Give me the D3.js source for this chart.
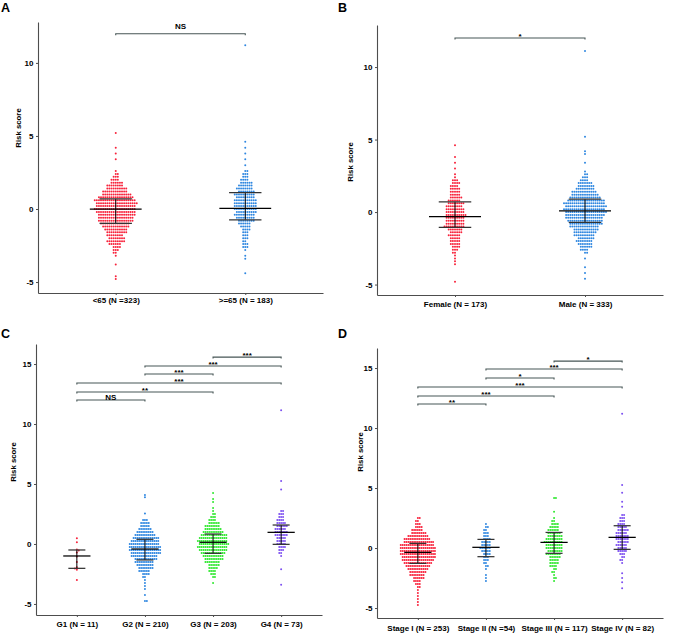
<!DOCTYPE html>
<html><head><meta charset="utf-8">
<script src="https://cdn.jsdelivr.net/npm/d3@7"></script>
<style>
body{margin:0;background:#fff}
svg{display:block}
text{font-family:"Liberation Sans",Arial,Helvetica,sans-serif;font-weight:bold}
</style>
</head><body>
<svg id="chart" width="677" height="633"></svg>
<script>
// ---------------- DATA ----------------
const catsA = ["<65 (N =323)", ">=65 (N = 183)"];
const catsB = ["Female (N = 173)", "Male (N = 333)"];
const catsC = ["G1 (N = 11)", "G2 (N = 210)", "G3 (N = 203)", "G4 (N = 73)"];
const catsD = ["Stage I (N = 253)", "Stage II (N =54)", "Stage III (N = 117)", "Stage IV (N = 82)"];

const ticksAB = [-5, 0, 5, 10];
const ticksCD = [-5, 0, 5, 10, 15];

// Binned risk-score counts (dots per row), rows descend from top value by bin width
const binAB = 0.2, binCD = 0.25;

const topA = [5.2, 4.6];
const countsA1 = [1,0,0,0,0,1,0,1,0,1, 0,0,0,1,2,3,4,6,8,10, 12,14,17,20,20,19,20,19,18,17, 17,14,13,11,10,8,8,9,6,4, 3,2,1,0,0,1,0,0,0,1, 1];
const countsA2 = [1,0,1,0,1,0,1,0,1,0, 2,3,3,4,6,7,8,8,10,9, 11,11,11,11,10,10,9,8,6,5, 4,3,3,3,2,3,3,1,0,1, 1,0,0,0,0,1];
const extraA1 = [];
const extraA2 = [11.2];

const topB = [4.6, 5.2];
const countsB1 = [1,0,0,0,1,0,1,0,1,0, 1,1,3,4,4,5,5,5,6,6, 8,8,9,9,10,9,9,9,10,7, 6,6,5,5,5,4,3,2,1,1, 1,1,0,0,0,0,0,1];
const countsB2 = [1,0,0,0,0,1,1,0,0,1, 0,0,1,2,3,4,7,8,9,12, 13,15,18,20,20,20,20,19,18,17, 16,14,12,11,10,8,8,7,6,4, 2,0,1,0,0,1,0,1,0,1];
const extraB1 = [];
const extraB2 = [11.1];

const topC = [0, 2.0, 4.25, 2.75];
const countsC1 = [];
const countsC2 = [3,5,5,7,9,11,14,15,16,17, 17,16,14,12,10,9,8,6,4,2, 1,1,1,1,0,1,0,2];
const countsC3 = [1,0,1,1,0,1,1,2,3,4, 6,8,9,11,14,15,16,16,16,15, 13,11,10,8,6,5,4,3,2,0, 1];
const countsC4 = [2,3,3,4,5,6,6,7,7,5, 5,5,4,3,2,1];
const extraC1 = [0.47, 0.15, -0.45, -0.55, -0.72, -1.05, -1.5, -1.95, -2.05, -2.15, -3.0];
const extraC2 = [4.08, 3.9, 2.55];
const extraC3 = [];
const extraC4 = [11.15, 5.25, 4.55, -2.1, -3.4];

const topD = [2.5, 2.0, 2.5, 2.75];
const countsD1 = [2,2,3,4,6,8,11,14,16,18, 19,19,19,18,17,15,13,11,9,8, 6,4,3,2,1,1,1,1,1,1];
const countsD2 = [1,2,2,3,3,4,5,5,6,5, 4,3,3,2,2,1,0,1,1,1];
const countsD3 = [1,2,4,5,6,7,8,9,10,9, 9,8,8,6,5,5,4,2,2,1, 2,1];
const countsD4 = [2,3,3,4,5,6,6,7,7,6, 6,5,5,3,2,2,1];
const extraD1 = [];
const extraD2 = [];
const extraD3 = [4.18, 4.18, 3.03];
const extraD4 = [11.2, 5.25, 4.6, 3.85, 3.45, -2.1, -2.5, -2.85, -3.35];

// Summary bars (centre line, upper and lower bars) per group
const centerA = [-0.01, 0.05],  upperA = [0.70, 1.12],  lowerA = [-0.98, -0.74];
const centerB = [-0.32, 0.09],  upperB = [0.71, 0.90],  lowerB = [-1.05, -0.71];
const centerC = [-1.0, -0.42, 0.14, 0.97], upperC = [-0.5, 0.39, 0.83, 1.58], lowerC = [-2.03, -1.33, -0.78, -0.03];
const centerD = [-0.36, 0.06, 0.47, 0.89], upperD = [0.39, 0.72, 1.30, 1.86], lowerD = [-1.28, -0.72, -0.44, -0.11];

// Significance brackets: [from group, to group, label, height]
const sigA = [[0, 1, "NS", 12.0]];
const sigB = [[0, 1, "*", 12.0]];
const sigC = [[0,1,"NS",12.0],[0,2,"**",12.67],[0,3,"***",13.42],[1,2,"***",14.17],[1,3,"***",14.83],[2,3,"***",15.58]];
const sigD = [[0,1,"**",12.0],[0,2,"***",12.67],[0,3,"***",13.42],[1,2,"*",14.17],[1,3,"***",14.92],[2,3,"*",15.58]];

const groupColors = ["#f8233c", "#2f87e0", "#2ee82e", "#7c4ff0"];

// ---------------- DRAWING ----------------
const svg = d3.select("#chart");

function expand(top, step, counts, extra) {
  const vals = [];
  counts.forEach((c, i) => {
    const v = +(top - i * step).toFixed(3);
    for (let k = 0; k < c; k++) vals.push(v);
  });
  extra.forEach(v => vals.push(v));
  return vals;
}

function swarm(vals, yS, pitch) {
  const pts = vals.map(v => ({v, y: yS(v)})).sort((a, b) => a.y - b.y);
  const placed = [];
  let flip = 1;
  const min2 = pitch * pitch * 0.98;
  for (const p of pts) {
    const near = placed.filter(q => Math.abs(q.y - p.y) < pitch);
    let best = null;
    for (let k = 0; k < 400 && best === null; k++) {
      const cands = k === 0 ? [0] : [flip * k * pitch / 2, -flip * k * pitch / 2];
      for (const dx of cands) {
        if (near.every(q => (q.dx - dx) ** 2 + (q.y - p.y) ** 2 >= min2)) { best = dx; break; }
      }
    }
    p.dx = best;
    placed.push(p);
    if (best !== 0) flip = -flip;
  }
  return pts;
}

function drawPanel(P) {
  const g = svg.append("g");
  const x = d3.scalePoint().domain(P.cats).range([P.x0, P.x1]).padding(0.6);
  const y = d3.scaleLinear().domain(P.dom).range([P.yBot, P.yTop]);
  const step = x.step();

  const ya = g.append("g").attr("transform", `translate(${P.x0},0)`)
    .call(d3.axisLeft(y).tickValues(P.ticks).tickSize(2).tickSizeOuter(0).tickPadding(2.5).tickFormat(d => String(d)));
  const xa = g.append("g").attr("transform", `translate(0,${P.yBot})`)
    .call(d3.axisBottom(x).tickSize(2).tickSizeOuter(0).tickPadding(P.xPad));
  [ya, xa].forEach(a => {
    a.attr("font-family", null).attr("font-size", null);
    a.select(".domain").attr("stroke", "#4d4d4d").attr("stroke-width", 1.1);
    a.selectAll(".tick line").attr("stroke", "#4d4d4d");
    a.selectAll("text").attr("fill", "#000");
  });
  ya.selectAll("text").style("font-size", "8px");
  xa.selectAll("text").style("font-size", "8px");

  // dots
  P.cats.forEach((c, i) => {
    const vals = expand(P.tops[i], P.bin, P.counts[i], P.extras[i]);
    const pts = swarm(vals, y, P.pitch);
    g.append("g").selectAll("circle").data(pts).join("circle")
      .attr("cx", d => x(c) + d.dx).attr("cy", d => d.y).attr("r", 1.0)
      .attr("fill", groupColors[i]);
  });

  // summary bars
  P.cats.forEach((c, i) => {
    const cx = x(c);
    const sg = g.append("g").attr("stroke", "#000").attr("stroke-width", 1.25);
    sg.append("line").attr("x1", cx).attr("x2", cx).attr("y1", y(P.lower[i])).attr("y2", y(P.upper[i])).attr("stroke-width", 1);
    sg.append("line").attr("x1", cx - 0.2 * step).attr("x2", cx + 0.2 * step).attr("y1", y(P.center[i])).attr("y2", y(P.center[i]));
    [P.upper[i], P.lower[i]].forEach(v => {
      sg.append("line").attr("x1", cx - 0.125 * step).attr("x2", cx + 0.125 * step).attr("y1", y(v)).attr("y2", y(v)).attr("stroke", "#333");
    });
  });

  // significance brackets
  P.sig.forEach(([a, b, lab, h]) => {
    const xa1 = x(P.cats[a]), xb1 = x(P.cats[b]), yy = y(h);
    g.append("path").attr("d", `M${xa1},${yy + 1.5}V${yy}H${xb1}V${yy + 1.5}`)
      .attr("fill", "none").attr("stroke", "#475656").attr("stroke-width", 1.1);
    const dy = lab === "NS" ? P.nsDy : 0.8;
    g.append("text").attr("x", (xa1 + xb1) / 2).attr("y", yy + dy)
      .attr("text-anchor", "middle").style("font-size", "8px").attr("fill", "#000").text(lab);
  });

  // y label
  g.append("text").attr("transform", `translate(${P.ylab[0]},${P.ylab[1]}) rotate(-90)`)
    .attr("text-anchor", "middle").attr("dy", "0.35em").style("font-size", "7.8px").text("Risk score");
  // panel letter
  g.append("text").attr("x", P.letterPos[0]).attr("y", P.letterPos[1])
    .style("font-size", "12.5px").text(P.letter);
}

drawPanel({letter: "A", letterPos: [1, 12], x0: 38, x1: 323, yTop: 22, yBot: 293, dom: [-5.75, 12.8],
  ticks: ticksAB, cats: catsA, tops: topA, counts: [countsA1, countsA2], extras: [extraA1, extraA2], bin: binAB,
  center: centerA, upper: upperA, lower: lowerA, sig: sigA, pitch: 2.1, xPad: 2.7, nsDy: -4.5, ylab: [18, 128]});
drawPanel({letter: "B", letterPos: [338, 12], x0: 377, x1: 663, yTop: 25, yBot: 295, dom: [-5.72, 12.9],
  ticks: ticksAB, cats: catsB, tops: topB, counts: [countsB1, countsB2], extras: [extraB1, extraB2], bin: binAB,
  center: centerB, upper: upperB, lower: lowerB, sig: sigB, pitch: 2.1, xPad: 4, nsDy: -4.5, ylab: [350, 162]});
drawPanel({letter: "C", letterPos: [1, 338], x0: 36, x1: 322, yTop: 344, yBot: 615, dom: [-5.92, 16.67],
  ticks: ticksCD, cats: catsC, tops: topC, counts: [countsC1, countsC2, countsC3, countsC4], extras: [extraC1, extraC2, extraC3, extraC4], bin: binCD,
  center: centerC, upper: upperC, lower: lowerC, sig: sigC, pitch: 1.9, xPad: 4, nsDy: 0, ylab: [13, 462]});
drawPanel({letter: "D", letterPos: [338, 338], x0: 377, x1: 663, yTop: 348, yBot: 618, dom: [-5.83, 16.67],
  ticks: ticksCD, cats: catsD, tops: topD, counts: [countsD1, countsD2, countsD3, countsD4], extras: [extraD1, extraD2, extraD3, extraD4], bin: binCD,
  center: centerD, upper: upperD, lower: lowerD, sig: sigD, pitch: 1.9, xPad: 5, nsDy: 0, ylab: [360, 452]});
</script>
</body></html>
